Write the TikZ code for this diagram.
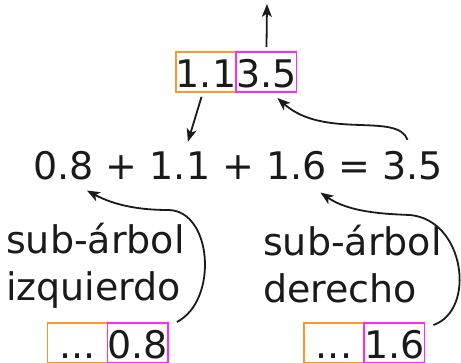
\documentclass[tikz,border=0pt]{standalone}
\usepackage{fontspec}
\setmainfont{DejaVu Sans}
\usetikzlibrary{arrows.meta}
\definecolor{boxorange}{RGB}{255,150,40}
\definecolor{boxmagenta}{RGB}{255,40,255}
\definecolor{ink}{RGB}{26,26,26}
\begin{document}
\begin{tikzpicture}[x=1pt,y=-1pt,
  numfont/.style={font=\fontsize{38}{44}\selectfont, text=ink},
  eq/.style={numfont, inner sep=0pt, outer sep=0pt, anchor=base west},
  cell/.style={numfont, draw, line width=1.6pt, inner sep=0pt, outer sep=0pt,
    minimum width=60pt, text height=35.5pt, text depth=4.5pt},
  orangecell/.style={cell, draw=boxorange},
  magentacell/.style={cell, draw=boxmagenta},
  label/.style={font=\fontsize{38}{47}\selectfont, text=ink, align=left,
    inner sep=0pt, anchor=base west},
  arr/.style={draw=ink, line width=1.8pt, -{Stealth[length=13pt,width=10pt,inset=3.5pt]}}]
\useasboundingbox (0,0) rectangle (461,362);

% result pair at the top
\node[orangecell] (t11) at (206,72) {1.1};
\node[magentacell, anchor=west] (t35) at (t11.east) {3.5};
\coordinate (up) at (267,4);

% the sum
\node[eq] (e08) at (33.5,179) {0.8};
\node[eq] (p1) at ([xshift=12pt]e08.base east) {+};
\node[eq] (e11) at ([xshift=12pt]p1.base east) {1.1};
\node[eq] (p2) at ([xshift=12pt]e11.base east) {+};
\node[eq] (e16) at ([xshift=12pt]p2.base east) {1.6};
\node[eq] (eqs) at ([xshift=12pt]e16.base east) {=};
\node[eq] (e35) at ([xshift=12pt]eqs.base east) {3.5};

% subtrees (the base anchor sits on the last line)
\node[label] (lsub) at (6,300) {sub-árbol\\izquierdo};
\node[label] (rsub) at (263,302) {sub-árbol\\derecho};

% pairs returned by the subtrees
\node[orangecell] (lb1) at (77.5,343) {...};
\node[magentacell, anchor=west] (b08) at (lb1.east) {0.8};
\node[orangecell] (rb1) at (334,343) {...};
\node[magentacell, anchor=west] (b16) at (rb1.east) {1.6};

% connectors
\draw[arr, shorten <=5pt] (t35.north) -- (up);
\draw[arr, shorten <=5pt, shorten >=10pt] ([xshift=-3pt]t11.south) -- ([xshift=5pt]e11.north);
\draw[arr] ([shift={(-5pt,11pt)}]e35.north) .. controls +(-10,-28) and +(47,42) .. ([shift={(11pt,-6pt)}]t35.south);
\draw[arr] ([shift={(9pt,1pt)}]b08.north east) .. controls +(42,-22) and +(44,0) .. (168,210)
  .. controls +(-28,0) and +(28,15) .. ([shift={(-7pt,-11pt)}]e08.south east);
\draw[arr] ([shift={(9pt,-2pt)}]b16.north east) .. controls +(43,-15) and +(55,5) .. (410,215)
  .. controls +(-25,-1) and +(29,20) .. ([shift={(-6pt,-13pt)}]e16.south east);
\end{tikzpicture}
\end{document}
